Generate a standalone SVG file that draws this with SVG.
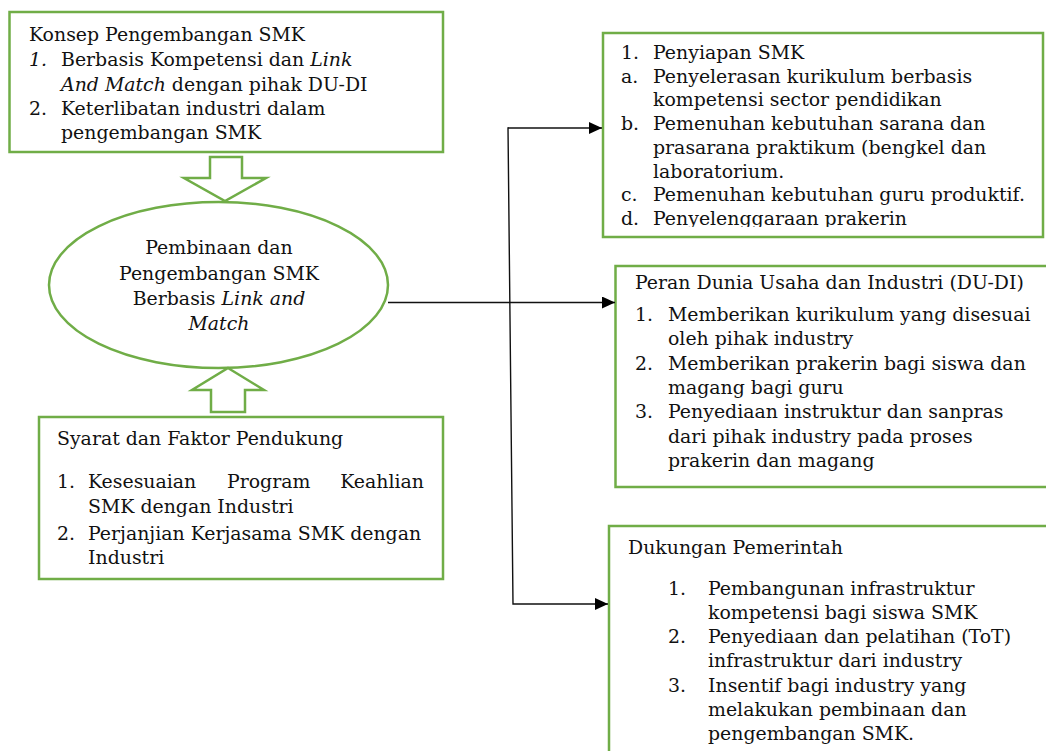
<svg xmlns="http://www.w3.org/2000/svg" width="1046" height="751" viewBox="0 0 1046 751">
<style>
.box{fill:#fff;stroke:#70ad47;stroke-width:2.5}
.blk{fill:#fff;stroke:#70ad47;stroke-width:2.5;stroke-linejoin:miter}
.t{font-family:"DejaVu Serif","Liberation Serif",serif;font-size:18.9px;fill:#111}
.c{text-anchor:middle}
.e{text-anchor:end}
.i{font-style:italic}
.ln{fill:none;stroke:#111;stroke-width:1.4}
</style>
<defs>
<marker id="ah" markerUnits="userSpaceOnUse" viewBox="0 0 13 12" refX="13" refY="6" markerWidth="13" markerHeight="12" orient="auto">
<path d="M0,0 L13,6 L0,12 z" fill="#000"/>
</marker>
<clipPath id="clipTop"><rect x="600" y="30" width="446" height="197"/></clipPath>
</defs>
<rect width="1046" height="751" fill="#fff"/>

<g id="konsep">
<rect class="box" x="9.5" y="12" width="433.5" height="140"/>
<text class="t" x="29" y="41">Konsep Pengembangan SMK</text>
<text class="t i" x="29" y="66">1.</text>
<text class="t" x="61" y="66">Berbasis Kompetensi dan <tspan class="i">Link</tspan></text>
<text class="t" x="61" y="91"><tspan class="i">And Match</tspan> dengan pihak DU-DI</text>
<text class="t" x="29" y="115">2.</text>
<text class="t" x="61" y="115">Keterlibatan industri dalam</text>
<text class="t" x="61" y="139">pengembangan SMK</text>
</g>

<g id="arrow-down">
<path class="blk" d="M210,157 H242 V178 H266 L225,201 L184,178 H210 Z"/>
</g>

<g id="pembinaan">
<ellipse class="box" cx="218.5" cy="285" rx="169.5" ry="83"/>
<text class="t c" x="219" y="254">Pembinaan dan</text>
<text class="t c" x="219" y="280">Pengembangan SMK</text>
<text class="t c" x="219" y="305">Berbasis <tspan class="i">Link and</tspan></text>
<text class="t c i" x="219" y="330">Match</text>
</g>

<g id="arrow-up">
<path class="blk" d="M228,368 L264,390 H245 V412 H211 V390 H192 Z"/>
</g>

<g id="syarat">
<rect class="box" x="39" y="417" width="404" height="162"/>
<text class="t" x="57" y="445">Syarat dan Faktor Pendukung</text>
<text class="t" x="57" y="488">1.</text>
<text class="t" x="88" y="488">Kesesuaian</text>
<text class="t" x="227" y="488">Program</text>
<text class="t e" x="424" y="488">Keahlian</text>
<text class="t" x="88" y="513">SMK dengan Industri</text>
<text class="t" x="57" y="540">2.</text>
<text class="t" x="88" y="540">Perjanjian Kerjasama SMK dengan</text>
<text class="t" x="88" y="564">Industri</text>
</g>

<g id="penyiapan">
<rect class="box" x="603" y="33" width="440" height="204"/>
<g clip-path="url(#clipTop)">
<text class="t" x="621" y="59">1.</text>
<text class="t" x="653" y="59">Penyiapan SMK</text>
<text class="t" x="621" y="82.7">a.</text>
<text class="t" x="653" y="82.7">Penyelerasan kurikulum berbasis</text>
<text class="t" x="653" y="106.4">kompetensi sector pendidikan</text>
<text class="t" x="621" y="130.1">b.</text>
<text class="t" x="653" y="130.1">Pemenuhan kebutuhan sarana dan</text>
<text class="t" x="653" y="153.8">prasarana praktikum (bengkel dan</text>
<text class="t" x="653" y="177.5">laboratorium.</text>
<text class="t" x="621" y="201.2">c.</text>
<text class="t" x="653" y="201.2">Pemenuhan kebutuhan guru produktif.</text>
<text class="t" x="621" y="224.9">d.</text>
<text class="t" x="653" y="224.9">Penyelenggaraan prakerin</text>
</g>
</g>

<g id="peran">
<rect class="box" x="615.5" y="266" width="440" height="221"/>
<text class="t" x="635" y="289">Peran Dunia Usaha dan Industri (DU-DI)</text>
<text class="t" x="635" y="321">1.</text>
<text class="t" x="668" y="321">Memberikan kurikulum yang disesuai</text>
<text class="t" x="668" y="345">oleh pihak industry</text>
<text class="t" x="635" y="370">2.</text>
<text class="t" x="668" y="370">Memberikan prakerin bagi siswa dan</text>
<text class="t" x="668" y="394">magang bagi guru</text>
<text class="t" x="635" y="418">3.</text>
<text class="t" x="668" y="418">Penyediaan instruktur dan sanpras</text>
<text class="t" x="668" y="443">dari pihak industry pada proses</text>
<text class="t" x="668" y="467">prakerin dan magang</text>
</g>

<g id="dukungan">
<rect class="box" x="609" y="526" width="450" height="240"/>
<text class="t" x="628" y="554">Dukungan Pemerintah</text>
<text class="t" x="668" y="595">1.</text>
<text class="t" x="708" y="595">Pembangunan infrastruktur</text>
<text class="t" x="708" y="619">kompetensi bagi siswa SMK</text>
<text class="t" x="668" y="643">2.</text>
<text class="t" x="708" y="643">Penyediaan dan pelatihan (ToT)</text>
<text class="t" x="708" y="667">infrastruktur dari industry</text>
<text class="t" x="668" y="692">3.</text>
<text class="t" x="708" y="692">Insentif bagi industry yang</text>
<text class="t" x="708" y="716">melakukan pembinaan dan</text>
<text class="t" x="708" y="740">pengembangan SMK.</text>
</g>

<g id="connectors">
<path class="ln" d="M388,302.5 H615" marker-end="url(#ah)"/>
<path class="ln" d="M508,128 H602" marker-end="url(#ah)"/>
<path class="ln" d="M508,127.3 L513,604 H608" marker-end="url(#ah)"/>
</g>
</svg>
